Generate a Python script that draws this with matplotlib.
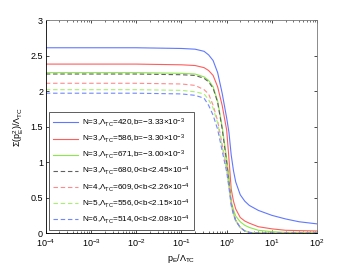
import matplotlib
matplotlib.use('Agg')
import matplotlib.pyplot as plt

plt.rcParams['font.family'] = ['Liberation Sans', 'DejaVu Sans']
plt.rcParams['mathtext.fontset'] = 'custom'
plt.rcParams['mathtext.rm'] = 'Liberation Sans'
plt.rcParams['mathtext.default'] = 'regular'

# p_E / Lambda_TC sample points
p = [1e-4, 1e-2, 0.1, 0.2, 0.316, 0.398, 0.501, 0.631, 0.794, 1.0, 1.122, 1.259,
     1.413, 1.585, 1.995, 2.512, 3.162, 5.012, 10.0, 19.95, 39.81, 100.0]

blue_s = [2.61, 2.61, 2.60, 2.59, 2.56, 2.51, 2.43, 2.26, 1.97, 1.62, 1.42, 1.10,
          0.88, 0.72, 0.54, 0.45, 0.39, 0.32, 0.25, 0.20, 0.16, 0.13]
red_s = [2.38, 2.38, 2.37, 2.36, 2.33, 2.29, 2.22, 2.06, 1.80, 1.45, 1.05, 0.62,
         0.45, 0.34, 0.22, 0.17, 0.14, 0.09, 0.06, 0.04, 0.035, 0.03]
green_s = [2.26, 2.26, 2.25, 2.24, 2.20, 2.15, 2.06, 1.86, 1.50, 1.05, 0.80, 0.45,
           0.33, 0.24, 0.16, 0.11, 0.08, 0.04, 0.02, 0.01, 0.01, 0.01]
gray_d = [2.24, 2.24, 2.23, 2.22, 2.18, 2.13, 2.04, 1.84, 1.47, 1.00, 0.72, 0.42,
          0.28, 0.18, 0.08, 0.03, 0.01, 0.0, 0.0, 0.0, 0.0, 0.0]
red_d = [2.11, 2.11, 2.10, 2.08, 2.02, 1.96, 1.80, 1.58, 1.25, 0.92, 0.68, 0.42,
         0.28, 0.18, 0.08, 0.03, 0.01, 0.0, 0.0, 0.0, 0.0, 0.0]
green_d = [2.02, 2.02, 2.01, 1.99, 1.96, 1.88, 1.76, 1.55, 1.22, 0.90, 0.66, 0.40,
           0.27, 0.17, 0.08, 0.03, 0.01, 0.0, 0.0, 0.0, 0.0, 0.0]
blue_d = [1.97, 1.97, 1.96, 1.94, 1.90, 1.80, 1.66, 1.46, 1.16, 0.86, 0.64, 0.39,
          0.26, 0.17, 0.08, 0.03, 0.01, 0.0, 0.0, 0.0, 0.0, 0.0]

labels = [
    r'N=3,$\Lambda_{TC}$=420,b=$-3.33{\times}10^{-3}$',
    r'N=3,$\Lambda_{TC}$=586,b=$-3.30{\times}10^{-3}$',
    r'N=3,$\Lambda_{TC}$=671,b=$-3.00{\times}10^{-3}$',
    r'N=3,$\Lambda_{TC}$=680,0<b<$2.45{\times}10^{-4}$',
    r'N=4,$\Lambda_{TC}$=609,0<b<$2.26{\times}10^{-4}$',
    r'N=5,$\Lambda_{TC}$=556,0<b<$2.15{\times}10^{-4}$',
    r'N=6,$\Lambda_{TC}$=514,0<b<$2.08{\times}10^{-4}$',
]

fig = plt.figure(figsize=(3.5, 2.64), dpi=100)
ax = fig.add_axes([0.131, 0.117, 0.775, 0.807])

series = [blue_s, red_s, green_s, gray_d, red_d, green_d, blue_d]
colors = ['#6078ff', '#ff5c5c', '#8ce84a', '#606060', '#ff8a8a', '#a8f070', '#7088ff']
styles = ['-', '-', '-', '--', '--', '--', '--']
for y, c, ls, lab in zip(series, colors, styles, labels):
    ax.plot(p, y, color=c, ls=ls, lw=0.8, label=lab, dashes=(4, 2.5) if ls == '--' else (None, None))

ax.set_xscale('log')
ax.set_xlim(1e-4, 1e2)
ax.set_ylim(0, 3)
ax.set_yticks([0, 0.5, 1, 1.5, 2, 2.5, 3])
ax.set_yticklabels(['0', '0.5', '1', '1.5', '2', '2.5', '3'])
ax.tick_params(which='both', direction='in', top=True, right=True, labelsize=6.5, pad=2)
ax.tick_params(axis='x', pad=3)
ax.tick_params(which='major', length=2.5, width=0.5)
ax.tick_params(which='minor', length=1.5, width=0.4)
for s in ax.spines.values():
    s.set_linewidth(0.6)
ax.spines['top'].set_color('#777777')
ax.spines['right'].set_color('#777777')

ax.set_xlabel(r'$p_E/\Lambda_{TC}$', fontsize=6.5, labelpad=2)
ax.set_ylabel(r'$\Sigma(p_E^2)/\Lambda_{TC}$', fontsize=6.5, labelpad=3)

leg = ax.legend(loc='lower left', bbox_to_anchor=(0.011, 0.014), borderaxespad=0,
                fontsize=5.9, handlelength=3.0, labelspacing=0.45, fancybox=False,
                edgecolor='#444444', framealpha=1, borderpad=0.5, handletextpad=0.5)
leg.get_frame().set_linewidth(0.6)

fig.savefig('out.png', dpi=100)
